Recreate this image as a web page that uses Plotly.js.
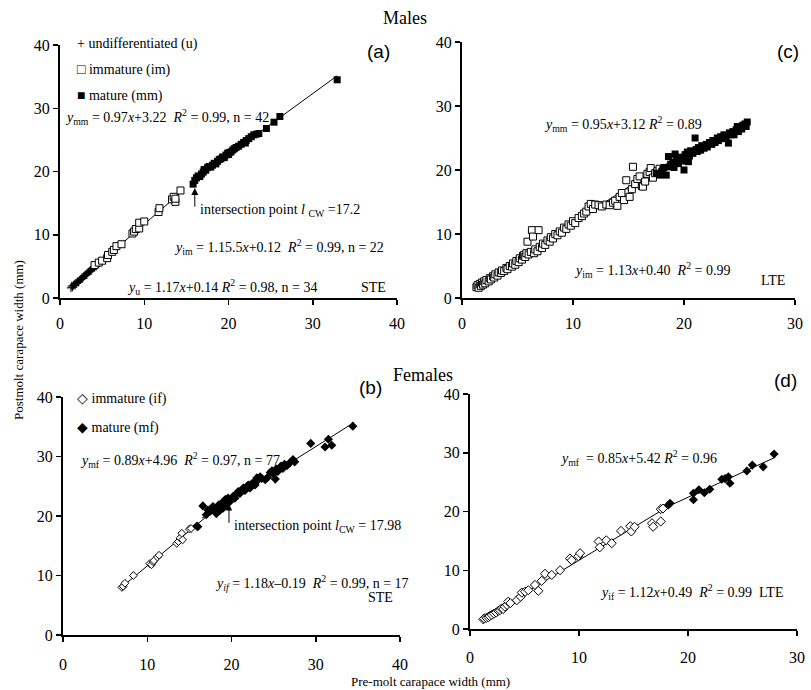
<!DOCTYPE html>
<html>
<head>
<meta charset="utf-8">
<script src="https://cdn.plot.ly/plotly-3.0.1.min.js"></script>
<style>html,body{margin:0;padding:0;background:#fff;}#chart{width:811px;height:690px;}</style>
</head>
<body>
<div id="chart"></div>
<script>
// ---------------- DATA ----------------
// Panel (a): Males, STE  [pre-molt CW, post-molt CW]
const a_undiff = [[1.3,1.6],[1.4,1.9],[1.5,1.7],[1.6,2.0],[1.7,2.2],[1.8,2.0],[1.9,2.4],[2.0,2.3],[2.1,2.6],[2.2,2.5],[2.3,2.8],[2.4,2.9],[2.5,3.0],[2.6,3.2],[2.7,3.1],[2.8,3.4],[2.9,3.5],[3.0,3.6],[3.1,3.8],[3.2,3.7],[3.3,4.0],[3.4,4.1],[3.5,4.2],[3.6,4.4],[3.7,4.3],[3.8,4.6],[3.9,4.7],[4.0,4.8],[4.1,4.9],[4.2,5.1],[4.3,5.0],[4.4,5.3],[4.5,5.4],[4.6,5.5]];
const a_immature = [[4.1,5.2],[4.6,5.6],[5.0,5.9],[5.6,6.3],[5.7,6.8],[6.2,7.3],[6.4,7.6],[6.7,8.2],[7.3,8.5],[8.6,10.2],[8.8,10.5],[9.0,10.9],[9.4,11.0],[9.4,11.9],[10.0,12.1],[11.7,13.6],[11.8,14.2],[13.3,15.6],[13.5,16.0],[13.7,15.2],[13.7,15.7],[14.3,17.0]];
const a_mature = [[15.8,18.0],[16.0,18.6],[16.2,19.0],[16.4,19.3],[16.6,19.2],[16.8,19.6],[17.0,19.9],[17.1,20.3],[17.3,20.2],[17.5,20.6],[17.7,20.8],[17.9,20.7],[18.1,21.0],[18.3,21.3],[18.5,21.2],[18.7,21.6],[18.9,21.9],[19.1,22.0],[19.3,22.3],[19.5,22.2],[19.7,22.6],[19.9,22.9],[20.0,22.7],[20.1,23.0],[20.3,23.1],[20.5,23.4],[20.7,23.6],[20.9,23.8],[21.2,24.0],[21.5,24.3],[21.8,24.6],[22.0,24.5],[22.1,24.9],[22.4,25.2],[22.7,25.5],[23.0,25.8],[23.3,25.9],[23.6,26.0],[24.5,26.8],[25.4,27.8],[26.1,28.7],[32.9,34.5]];

// Panel (c): Males, LTE
const c_immature = [[1.3,1.7],[1.4,2.0],[1.5,1.6],[1.6,2.2],[1.7,1.9],[1.8,2.4],[1.9,2.1],[2.0,2.6],[2.1,2.3],[2.2,2.8],[2.4,2.6],[2.5,3.1],[2.6,2.9],[2.8,3.4],[2.9,3.2],[3.0,3.7],[3.2,3.5],[3.3,4.0],[3.5,3.9],[3.6,4.3],[3.8,4.2],[4.0,4.7],[4.1,4.5],[4.3,5.0],[4.5,4.9],[4.6,5.4],[4.8,5.2],[4.9,5.8],[5.1,5.6],[5.2,6.2],[5.4,6.0],[5.5,6.6],[5.6,6.7],[5.7,6.4],[5.8,7.0],[5.9,8.8],[6.0,6.8],[6.2,7.2],[6.3,10.6],[6.4,9.6],[6.9,10.6],[6.5,7.0],[6.6,7.6],[6.8,7.3],[7.0,8.0],[7.2,7.8],[7.3,8.5],[7.5,8.3],[7.7,9.0],[7.9,8.8],[8.0,9.5],[8.2,9.3],[8.4,10.0],[8.6,9.8],[8.8,10.4],[9.0,10.2],[9.2,11.0],[9.4,10.8],[9.6,11.5],[9.8,11.3],[10.0,12.0],[10.2,11.7],[10.5,12.5],[10.8,12.8],[11.0,13.2],[11.2,13.5],[11.4,14.3],[11.6,14.7],[11.8,13.9],[12.0,14.6],[12.3,14.5],[12.6,14.3],[13.0,14.6],[13.3,14.5],[13.6,14.9],[13.8,15.2],[14.0,14.4],[14.2,15.8],[14.4,16.4],[14.6,15.3],[14.8,18.4],[15.0,16.5],[15.1,15.8],[15.3,17.0],[15.4,20.5],[15.6,17.8],[15.8,18.6],[16.0,19.0],[16.2,17.5],[16.3,17.4],[16.5,18.2],[16.7,19.4],[16.9,19.7],[17.0,20.3],[17.2,18.8],[17.4,19.5],[17.6,19.8],[17.8,20.2]];
const c_mature = [[17.5,19.5],[17.8,19.2],[18.0,19.8],[18.1,20.1],[18.2,20.4],[18.4,19.2],[18.6,22.1],[18.7,20.5],[18.8,20.9],[19.0,21.2],[19.1,20.4],[19.2,22.5],[19.3,21.6],[19.5,21.0],[19.6,22.0],[19.8,21.4],[20.0,20.0],[20.1,22.4],[20.2,21.8],[20.3,22.8],[20.4,21.3],[20.5,22.2],[20.6,23.0],[20.8,22.6],[21.0,25.0],[21.1,23.2],[21.2,22.9],[21.3,23.5],[21.5,23.1],[21.6,23.8],[21.8,23.4],[22.0,24.0],[22.1,23.6],[22.3,24.3],[22.5,24.0],[22.6,24.6],[22.8,24.3],[23.0,25.0],[23.1,24.6],[23.3,25.2],[23.5,24.9],[23.6,25.5],[23.8,25.2],[24.0,24.2],[24.1,25.8],[24.2,25.5],[24.4,26.0],[24.5,25.5],[24.7,26.3],[24.8,26.8],[24.9,26.0],[25.0,26.6],[25.2,26.4],[25.3,27.0],[25.5,27.2],[25.6,26.8],[25.7,27.5]];

// Panel (b): Females, STE
const b_immature = [[7.0,8.0],[7.15,8.2],[7.35,8.7],[8.35,10.0],[10.3,12.0],[10.5,11.8],[10.7,12.3],[10.8,12.5],[11.2,13.1],[11.4,13.4],[13.5,15.4],[13.7,15.7],[13.9,16.3],[14.1,17.1],[14.2,16.0],[15.0,17.8],[15.2,17.9]];
const b_mature = [[15.9,18.3],[16.0,18.2],[16.6,21.7],[17.0,20.2],[17.2,21.0],[17.5,20.8],[17.8,21.6],[18.0,21.2],[18.2,20.4],[18.3,21.5],[18.5,21.9],[18.6,20.9],[18.8,21.4],[18.9,22.2],[19.0,21.3],[19.1,22.5],[19.2,21.7],[19.3,22.8],[19.4,22.0],[19.5,22.6],[19.6,23.0],[19.8,22.4],[20.0,22.9],[20.2,23.3],[20.4,23.0],[20.6,23.7],[20.8,24.1],[21.0,23.8],[21.2,24.3],[21.4,24.7],[21.6,24.3],[21.8,24.9],[22.0,25.2],[22.2,24.7],[22.4,25.4],[22.6,25.6],[22.8,25.2],[23.0,26.4],[23.2,26.1],[23.4,26.6],[23.6,26.3],[24.0,26.1],[24.3,26.5],[24.6,27.3],[24.8,27.6],[25.0,27.1],[25.2,26.2],[25.3,27.9],[25.5,27.5],[25.7,28.1],[25.9,28.4],[26.1,28.0],[26.3,28.7],[26.6,28.5],[26.9,28.9],[27.3,29.5],[27.5,29.1],[29.4,32.2],[31.1,31.6],[31.5,32.9],[31.9,31.9],[34.4,35.1]];

// Panel (d): Females, LTE
const d_immature = [[1.22,1.65],[1.3,1.8],[1.5,1.9],[1.68,2.0],[1.8,2.2],[2.0,2.4],[2.2,2.6],[2.4,2.8],[2.6,3.1],[2.75,3.2],[2.9,3.5],[3.05,3.4],[3.2,3.8],[3.4,4.1],[3.5,4.65],[3.7,4.4],[4.3,4.9],[4.65,5.5],[4.75,6.2],[5.05,6.35],[5.35,6.6],[5.96,7.5],[6.27,6.5],[6.58,8.2],[6.88,9.4],[7.5,9.2],[8.26,10.0],[9.17,12.0],[9.33,11.7],[9.94,12.4],[10.1,12.9],[11.8,14.9],[11.9,13.9],[12.5,15.1],[13.0,14.6],[13.85,16.7],[14.7,17.5],[14.8,16.6],[15.1,17.4],[16.7,18.0],[16.8,17.4],[17.5,18.3],[17.5,20.4],[17.7,20.5]];
const d_mature = [[18.2,21.1],[18.35,21.4],[20.5,23.1],[20.5,22.0],[21.0,23.7],[21.5,23.2],[22.0,23.8],[23.1,25.5],[23.4,25.6],[23.7,25.9],[23.85,24.8],[25.4,26.9],[25.9,27.9],[26.9,27.6],[27.9,29.8]];

// Regression equations [slope, intercept, xStart, xEnd]
const fit_a_u  = [1.17, 0.14, 1.3, 5.0];
const fit_a_im = [1.155, 0.12, 3.5, 14.6];
const fit_a_mm = [0.97, 3.22, 15.8, 32.9];
const fit_c_im = [1.13, 0.40, 1.3, 18.0];
const fit_c_mm = [0.95, 3.12, 17.5, 25.8];
const fit_b_if = [1.18, -0.19, 7.0, 17.0];
const fit_b_mf = [0.89, 4.96, 16.5, 34.5];
const fit_d_if = [1.12, 0.49, 1.2, 18.0];
const fit_d_mf = [0.85, 5.42, 18.0, 28.0];

const xTicksA = [0,10,20,30,40];
const xTicksC = [0,10,20,30];
const yTicks = [0,10,20,30,40];

// ---------------- BUILD ----------------
const SERIF = 'Liberation Serif, Times New Roman, serif';
const SANS = 'Liberation Sans, Arial, sans-serif';
const W = 811, H = 690;
const PX = v => v / W, PY = v => 1 - v / H;

function scatter(arr, xa, ya, symbol, size, fill, lw){
  return {type:'scatter', mode:'markers', x: arr.map(p=>p[0]), y: arr.map(p=>p[1]),
    xaxis: xa, yaxis: ya, showlegend:false, hoverinfo:'skip',
    marker:{symbol: symbol, size: size, color: fill, line:{color:'#000', width: lw}}};
}
function fitLine(f, xa, ya){
  const xs = [f[2], f[3]];
  return {type:'scatter', mode:'lines', x: xs, y: xs.map(v=>f[0]*v+f[1]),
    xaxis: xa, yaxis: ya, showlegend:false, hoverinfo:'skip', line:{color:'#000', width:1}};
}

const traces = [
  fitLine(fit_a_u,'x','y'), fitLine(fit_a_im,'x','y'), fitLine(fit_a_mm,'x','y'),
  scatter(a_undiff,'x','y','cross-thin-open',6,'#000',1),
  scatter(a_immature,'x','y','square',7,'#fff',1),
  scatter(a_mature,'x','y','square',7,'#000',0),

  fitLine(fit_c_im,'x2','y2'), fitLine(fit_c_mm,'x2','y2'),
  scatter(c_immature,'x2','y2','square',7,'#fff',1),
  scatter(c_mature,'x2','y2','square',7,'#000',0),

  fitLine(fit_b_if,'x3','y3'), fitLine(fit_b_mf,'x3','y3'),
  scatter(b_immature,'x3','y3','diamond',6,'#fff',1),
  scatter(b_mature,'x3','y3','diamond',7,'#000',0),

  fitLine(fit_d_if,'x4','y4'), fitLine(fit_d_mf,'x4','y4'),
  scatter(d_immature,'x4','y4','diamond',7,'#fff',1),
  scatter(d_mature,'x4','y4','diamond',7,'#000',0)
];

function axis(domain, range, ticks, anchor, standoff){
  const a = {domain: domain, range: range, tickvals: ticks, ticktext: ticks.map(String),
    anchor: anchor, showgrid:false, zeroline:false, showline:true, linecolor:'#000', linewidth:2,
    ticks:'outside', ticklen:5, tickwidth:1.5, tickcolor:'#000',
    tickfont:{family:SERIF, size:16, color:'#000'}, fixedrange:true};
  if (standoff !== undefined) a.ticklabelstandoff = standoff;
  return a;
}

const layout = {
  width: W, height: H, margin:{l:0,r:0,t:0,b:0}, paper_bgcolor:'#fff', plot_bgcolor:'rgba(0,0,0,0)',
  showlegend:false,
  xaxis:  axis([PX(60), PX(397)], [0,40], xTicksA, 'y', 5),
  yaxis:  axis([PY(298), PY(45)], [0,40], yTicks, 'x'),
  xaxis2: axis([PX(462), PX(795)], [0,30], xTicksC, 'y2', 5),
  yaxis2: axis([PY(298), PY(42)], [0,40], yTicks, 'x2'),
  xaxis3: axis([PX(63), PX(400)], [0,40], xTicksA, 'y3', 9),
  yaxis3: axis([PY(635), PY(397)], [0,40], yTicks, 'x3'),
  xaxis4: axis([PX(470), PX(797)], [0,30], xTicksC, 'y4', 8),
  yaxis4: axis([PY(629), PY(394)], [0,40], yTicks, 'x4'),
  annotations: []
};

function txt(x, y, text, opts){
  opts = opts || {};
  layout.annotations.push({xref:'paper', yref:'paper', x: PX(x), y: PY(y), text: text,
    showarrow:false, xanchor: opts.xa || 'left', yanchor: 'middle', textangle: opts.angle || 0,
    font:{family: opts.family || SERIF, size: opts.size || 14, color:'#000'}});
}
const SP = '&nbsp; ';

// titles
txt(405, 18, 'Males', {xa:'center', size:18});
txt(423, 375, 'Females', {xa:'center', size:18});
txt(431, 681, 'Pre-molt carapace width (mm)', {xa:'center', size:13});
txt(18, 340, 'Postmolt carapace width (mm)', {xa:'center', size:13, angle:-90});

// panel (a)
txt(75, 44, '+ undifferentiated (u)');
txt(75, 70, '\u25A1 immature (im)');
txt(75, 96, '\u25A0 mature (mm)');
txt(378, 51, '(a)', {xa:'center', family:SANS, size:19});
txt(63, 117, '<i>y</i><sub>mm</sub> = 0.97<i>x</i>+3.22' + SP + '<i>R</i><sup>2</sup> = 0.99, n = 42');
txt(198, 211, 'intersection point <i>l</i> <sub>CW</sub> =17.2');
txt(172, 247, '<i>y</i><sub>im</sub> = 1.15.5<i>x</i>+0.12' + SP + '<i>R</i><sup>2</sup> = 0.99, n = 22');
txt(125, 287, '<i>y</i><sub>u</sub> = 1.17<i>x</i>+0.14 <i>R</i><sup>2</sup> = 0.98, n = 34');
txt(388, 287, 'STE', {xa:'right'});

// panel (c)
txt(788, 51, '(c)', {xa:'center', family:SANS, size:19});
txt(542, 124, '<i>y</i><sub>mm</sub> = 0.95<i>x</i>+3.12 <i>R</i><sup>2</sup> = 0.89');
txt(572, 270, '<i>y</i><sub>im</sub> = 1.13<i>x</i>+0.40' + SP + '<i>R</i><sup>2</sup> = 0.99');
txt(787, 281, 'LTE', {xa:'right'});

// panel (b)
txt(75, 399, '\u25C7 immature (if)');
txt(75, 428, '\u25C6 mature (mf)');
txt(370, 387, '(b)', {xa:'center', family:SANS, size:19});
txt(78, 460, '<i>y</i><sub>mf</sub> = 0.89<i>x</i>+4.96' + SP + '<i>R</i><sup>2</sup> = 0.97, n = 77');
txt(232, 526, 'intersection point <i>l</i><sub>CW</sub> = 17.98');
txt(213, 583, '<i>y<sub>if</sub></i> = 1.18<i>x</i>\u20130.19' + SP + '<i>R</i><sup>2</sup> = 0.99, n = 17');
txt(380, 597, 'STE', {xa:'center'});

// panel (d)
txt(785, 380, '(d)', {xa:'center', family:SANS, size:19});
txt(558, 458, '<i>y</i><sub>mf</sub>&nbsp; = 0.85<i>x</i>+5.42 <i>R</i><sup>2</sup> = 0.96');
txt(598, 592, '<i>y</i><sub>if</sub> = 1.12<i>x</i>+0.49' + SP + '<i>R</i><sup>2</sup> = 0.99' + SP + 'LTE');

// arrows (data coordinates)
layout.annotations.push({xref:'x', yref:'y', axref:'x', ayref:'y', x:16.0, y:17.4, ax:16.0, ay:14.2,
  text:'', showarrow:true, arrowhead:2, arrowsize:1.4, arrowwidth:1, arrowcolor:'#000', standoff:0});
layout.annotations.push({xref:'x3', yref:'y3', axref:'x3', ayref:'y3', x:19.7, y:22.0, ax:19.7, ay:18.6,
  text:'', showarrow:true, arrowhead:2, arrowsize:1.3, arrowwidth:1, arrowcolor:'#000', standoff:0});

Plotly.newPlot('chart', traces, layout, {staticPlot:true, displayModeBar:false});
</script>
</body>
</html>
